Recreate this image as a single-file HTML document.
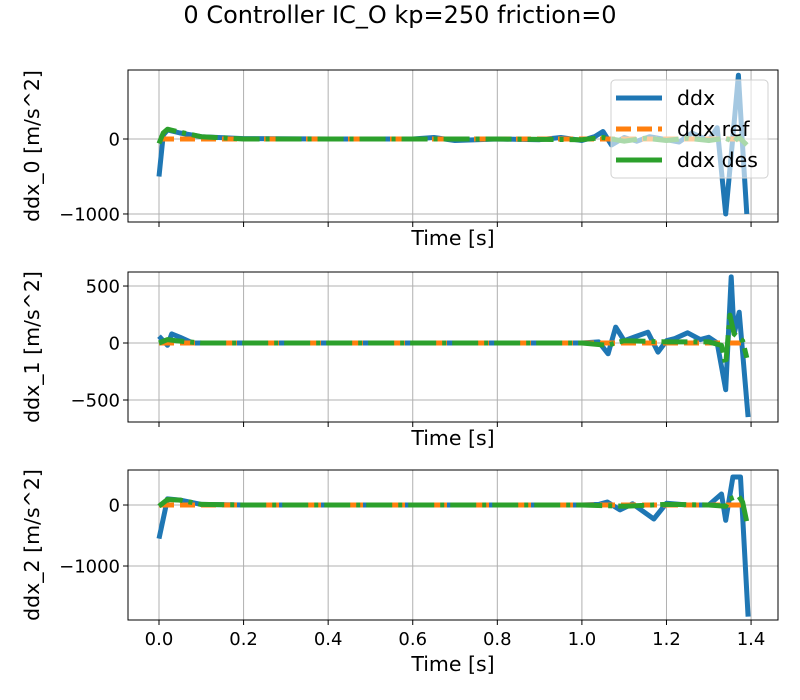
<!DOCTYPE html>
<html><head><meta charset="utf-8"><style>
html,body{margin:0;padding:0;background:#fff;}
svg{display:block;font-family:"DejaVu Sans","Liberation Sans",sans-serif;}
</style></head><body>
<svg id="chart" width="800" height="700" viewBox="0 0 800 700" xmlns="http://www.w3.org/2000/svg">
<text x="400" y="23" font-size="24" text-anchor="middle">0 Controller IC_O kp=250 friction=0</text>
</svg>
<script>
const xTicks = [0, 0.2, 0.4, 0.6, 0.8, 1.0, 1.2, 1.4];
const xTickLabels = ["0.0","0.2","0.4","0.6","0.8","1.0","1.2","1.4"];
const refT = [0, 1.39];
const refV = [0, 0];
const s1T = [0,0.01,0.02,0.05,0.1,0.2,0.4,0.6,0.65,0.7,0.8,0.9,0.95,1.0,1.03,1.05,1.07,1.1,1.13,1.16,1.2,1.23,1.26,1.3,1.32,1.34,1.355,1.37,1.38,1.39];
const s1Ddx = [-500,50,120,80,30,5,0,0,20,-20,0,-10,20,-20,30,100,-80,20,-30,30,-10,-40,80,-20,150,-1000,-100,850,-100,-1000];
const s1DesT = [0,0.01,0.02,0.05,0.1,0.2,0.6,0.8,1.0,1.05,1.1,1.15,1.2,1.25,1.3,1.34,1.36,1.37,1.39];
const s1Des = [-60,80,130,90,30,0,0,0,-10,20,-30,10,-20,10,-20,10,-40,30,-80];
const s2T = [0,0.02,0.03,0.05,0.08,0.2,0.6,1.0,1.04,1.062,1.08,1.1,1.156,1.18,1.2,1.22,1.25,1.28,1.3,1.32,1.34,1.353,1.36,1.372,1.393];
const s2Ddx = [60,-20,80,50,0,0,0,0,10,-95,140,20,95,-80,20,40,90,30,50,0,-410,580,80,270,-650];
const s2DesT = [0,0.02,0.04,0.1,0.6,1.0,1.06,1.1,1.2,1.3,1.33,1.34,1.35,1.36,1.38,1.39];
const s2Des = [0,30,20,0,0,0,-20,20,10,10,-20,-190,245,80,20,-130];
const s3T = [0,0.02,0.05,0.1,0.2,0.6,1.0,1.04,1.06,1.09,1.12,1.17,1.2,1.25,1.3,1.33,1.34,1.357,1.375,1.393];
const s3Ddx = [-550,100,80,10,0,0,0,10,50,-80,20,-230,30,0,0,180,-250,460,460,-1830];
const s3DesT = [0,0.02,0.05,0.1,0.2,1.0,1.1,1.2,1.3,1.34,1.35,1.37,1.38,1.39];
const s3Des = [-20,90,80,10,0,0,-20,10,0,-20,100,150,50,-280];

const NS = "http://www.w3.org/2000/svg";
const svg = document.getElementById('chart');
const L = 128, R = 778, X0 = -0.0733, X1 = 1.4637;
function xs(t){ return L + (t - X0) / (X1 - X0) * (R - L); }
function mk(tag, attrs){ const e = document.createElementNS(NS, tag); for (const k in attrs) e.setAttribute(k, attrs[k]); svg.appendChild(e); return e; }
const panels = [
 {top:70,bot:222,ymin:-1107,ymax:920,yt:[-1000,0],yl:["\u22121000","0"],lab:"ddx_0 [m/s^2]",d:s1Ddx,t:s1T,dt:s1DesT,dv:s1Des,legend:true,bottom:false},
 {top:272,bot:422,ymin:-693,ymax:623,yt:[-500,0,500],yl:["\u2212500","0","500"],lab:"ddx_1 [m/s^2]",d:s2Ddx,t:s2T,dt:s2DesT,dv:s2Des,legend:false,bottom:false},
 {top:470,bot:620,ymin:-1885,ymax:574,yt:[-1000,0],yl:["\u22121000","0"],lab:"ddx_2 [m/s^2]",d:s3Ddx,t:s3T,dt:s3DesT,dv:s3Des,legend:false,bottom:true}
];
panels.forEach((p, i) => {
  const ys = v => p.bot - (v - p.ymin) / (p.ymax - p.ymin) * (p.bot - p.top);
  const clipId = 'clip' + i;
  const cp = mk('clipPath', {id: clipId});
  const cr = document.createElementNS(NS, 'rect');
  cr.setAttribute('x', L); cr.setAttribute('y', p.top); cr.setAttribute('width', R - L); cr.setAttribute('height', p.bot - p.top);
  cp.appendChild(cr);
  xTicks.forEach((t, j) => {
    const g = mk('line', {x1: xs(t), x2: xs(t), y1: p.top, y2: p.bot, stroke: '#b0b0b0', 'stroke-width': 1});
    
    
    mk('line', {x1: xs(t), x2: xs(t), y1: p.bot, y2: p.bot + 5, stroke: '#000', 'stroke-width': 1});
    if (p.bottom) {
      const tl = mk('text', {x: xs(t), y: p.bot + 25, 'font-size': 18, 'text-anchor': 'middle'});
      tl.textContent = xTickLabels[j];
      
      
    }
  });
  p.yt.forEach((v, j) => {
    const g = mk('line', {x1: L, x2: R, y1: ys(v), y2: ys(v), stroke: '#b0b0b0', 'stroke-width': 1});
    
    
    mk('line', {x1: L - 5, x2: L, y1: ys(v), y2: ys(v), stroke: '#000', 'stroke-width': 1});
    const tl = mk('text', {x: L - 8, y: ys(v) + 6.5, 'font-size': 18, 'text-anchor': 'end'});
    tl.textContent = p.yl[j];
    
    
  });
  const pts = (T, V) => T.map((t, k) => xs(t).toFixed(1) + ',' + ys(V[k]).toFixed(1)).join(' ');
  const l1 = mk('polyline', {points: pts(p.t, p.d), fill: 'none', stroke: '#1f77b4', 'stroke-width': 5, 'stroke-linejoin': 'round', 'clip-path': 'url(#' + clipId + ')'});
  
  
  const l2 = mk('polyline', {points: pts(refT, refV), fill: 'none', stroke: '#ff7f0e', 'stroke-width': 5, 'stroke-dasharray': '15,6', 'clip-path': 'url(#' + clipId + ')'});
  
  
  const l3 = mk('polyline', {points: pts(p.dt, p.dv), fill: 'none', stroke: '#2ca02c', 'stroke-width': 5, 'stroke-dasharray': '26,6,4,6', 'stroke-linejoin': 'round', 'clip-path': 'url(#' + clipId + ')'});
  
  
  const fr = mk('rect', {x: L, y: p.top, width: R - L, height: p.bot - p.top, fill: 'none', stroke: '#000', 'stroke-width': 1});
  
  
  const xl = mk('text', {x: (L + R) / 2, y: p.bot + (p.bottom ? 51 : 23), 'font-size': 20.5, 'text-anchor': 'middle'});
  xl.textContent = 'Time [s]';
  
  
  const cy = (p.top + p.bot) / 2;
  const yl = mk('text', {x: 39, y: cy, 'font-size': 20.5, 'text-anchor': 'middle', transform: 'rotate(-90 39 ' + cy + ')'});
  yl.textContent = p.lab;
  
  
  if (p.legend) {
    const lb = mk('rect', {x: 611, y: 80, width: 157, height: 98, rx: 4, fill: 'rgba(255,255,255,0.6)', stroke: '#d0d0d0'});
    
    
    const entries = [['ddx', '#1f77b4', ''], ['ddx ref', '#ff7f0e', '15,6'], ['ddx des', '#2ca02c', '']];
    entries.forEach((e, k) => {
      const yy = 98 + k * 31;
      mk('line', {x1: 616, x2: 662, y1: yy, y2: yy, stroke: e[1], 'stroke-width': 5, 'stroke-dasharray': e[2]});
      const tx = mk('text', {x: 677, y: yy + 7, 'font-size': 20.5});
      tx.textContent = e[0];
      
      
    });
  }
});
</script>
</body></html>
